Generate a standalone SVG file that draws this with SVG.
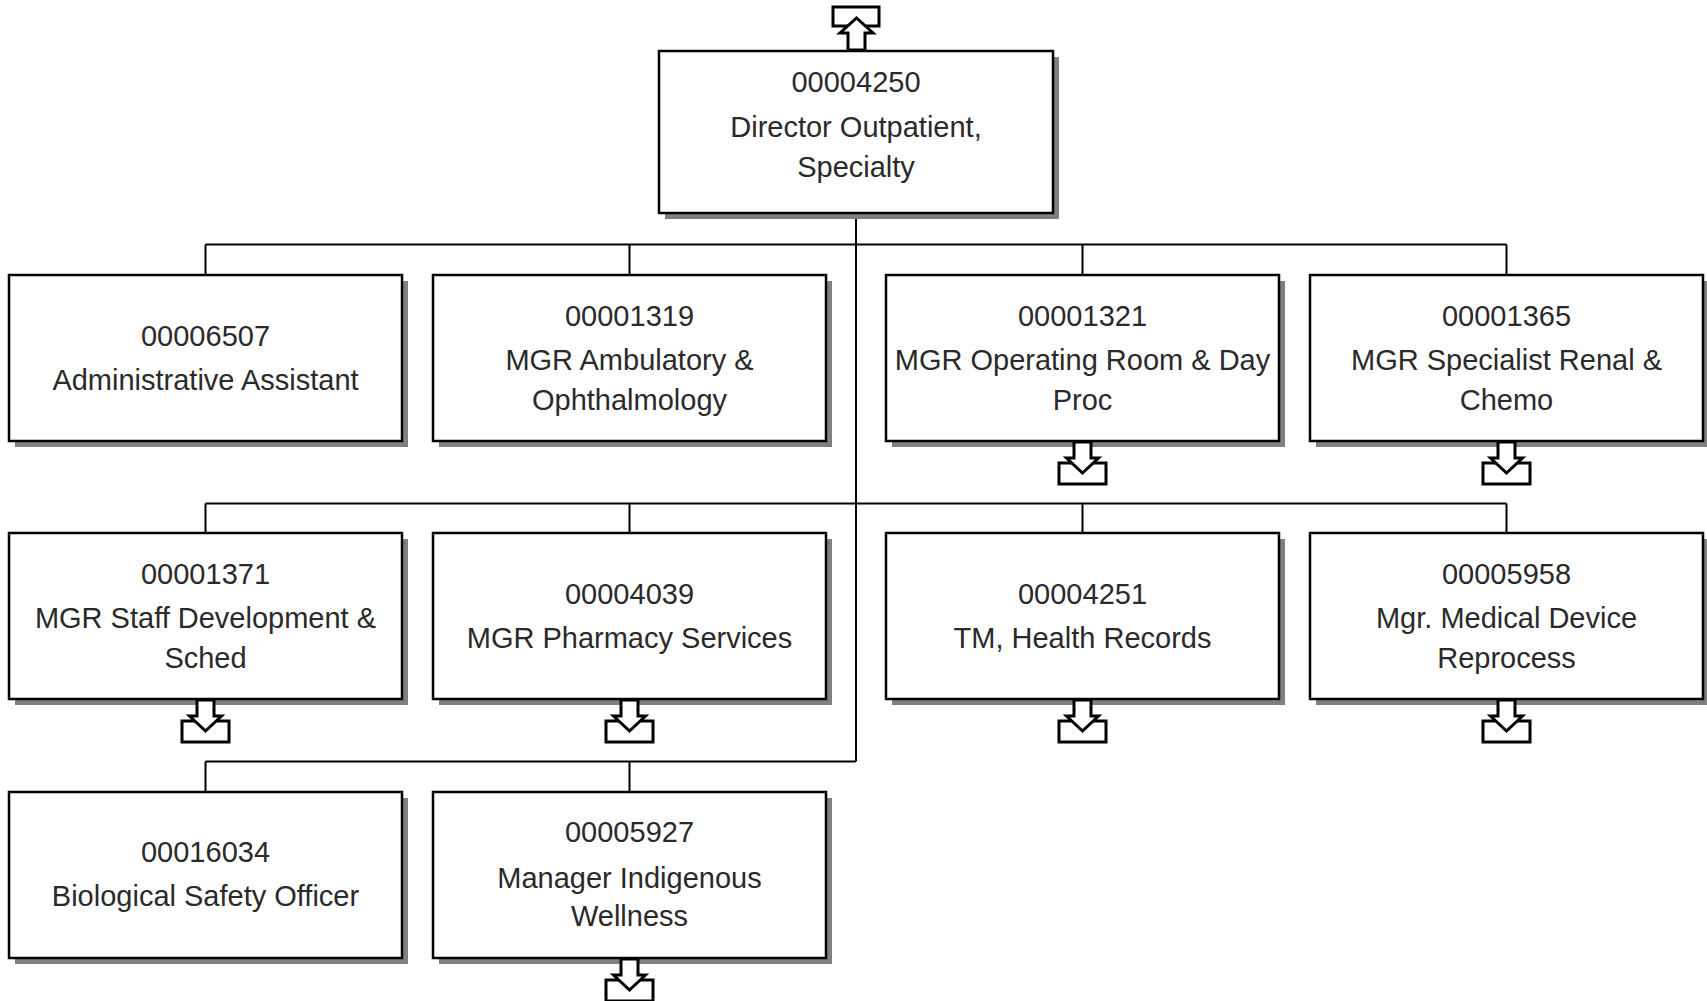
<svg xmlns="http://www.w3.org/2000/svg" xmlns:xlink="http://www.w3.org/1999/xlink" width="1707" height="1001" viewBox="0 0 1707 1001">
<style>
.sh{fill:#808080;stroke:none}
.bx{fill:#fff;stroke:#000;stroke-width:2.5}
.t{font-family:"Liberation Sans",Arial,sans-serif;font-size:29px;fill:#2a2a2a;text-anchor:middle}
.ln{fill:none;stroke:#000;stroke-width:2}
.ar{fill:#fff;stroke:#000;stroke-width:3;stroke-linejoin:miter}
</style>
<defs>
<g id="dn">
<rect class="ar" x="-23.5" y="22" width="47" height="21"/>
<polygon class="ar" points="-8.5,1 8.5,1 8.5,17 16,17 0,32 -16,17 -8.5,17"/>
</g>
<g id="up">
<rect class="ar" x="-23.5" y="-44" width="46" height="19"/>
<polygon class="ar" points="-8.5,-1 -8.5,-18 -16.5,-18 0,-33 16.5,-18 8.5,-18 8.5,-1"/>
</g>
</defs>
<rect width="1707" height="1001" fill="#fff"/>
<g id="connectors">
<path class="ln" d="M856 213V761.5"/>
<path class="ln" d="M205.5 244.5H1506.5M205.5 244.5V275M629.5 244.5V275M1082.5 244.5V275M1506.5 244.5V275"/>
<path class="ln" d="M205.5 503.5H1506.5M205.5 503.5V533M629.5 503.5V533M1082.5 503.5V533M1506.5 503.5V533"/>
<path class="ln" d="M205.5 761.5H856M205.5 761.5V792M629.5 761.5V792"/>
</g>
<g id="n00004250">
<rect class="sh" x="665" y="57" width="394" height="162"/>
<rect class="bx" x="659" y="51" width="394" height="162"/>
<text class="t" x="856" y="92">00004250</text>
<text class="t" x="856" y="137">Director Outpatient,</text>
<text class="t" x="856" y="177">Specialty</text>
<use xlink:href="#up" x="856.5" y="51"/>
</g>
<g id="n00006507">
<rect class="sh" x="15" y="281" width="393" height="166"/>
<rect class="bx" x="9" y="275" width="393" height="166"/>
<text class="t" x="205.5" y="346">00006507</text>
<text class="t" x="205.5" y="390">Administrative Assistant</text>
</g>
<g id="n00001319">
<rect class="sh" x="439" y="281" width="393" height="166"/>
<rect class="bx" x="433" y="275" width="393" height="166"/>
<text class="t" x="629.5" y="326">00001319</text>
<text class="t" x="629.5" y="370">MGR Ambulatory &amp;</text>
<text class="t" x="629.5" y="410">Ophthalmology</text>
</g>
<g id="n00001321">
<rect class="sh" x="892" y="281" width="393" height="166"/>
<rect class="bx" x="886" y="275" width="393" height="166"/>
<text class="t" x="1082.5" y="326">00001321</text>
<text class="t" x="1082.5" y="370">MGR Operating Room &amp; Day</text>
<text class="t" x="1082.5" y="410">Proc</text>
<use xlink:href="#dn" x="1082.5" y="441"/>
</g>
<g id="n00001365">
<rect class="sh" x="1316" y="281" width="393" height="166"/>
<rect class="bx" x="1310" y="275" width="393" height="166"/>
<text class="t" x="1506.5" y="326">00001365</text>
<text class="t" x="1506.5" y="370">MGR Specialist Renal &amp;</text>
<text class="t" x="1506.5" y="410">Chemo</text>
<use xlink:href="#dn" x="1506.5" y="441"/>
</g>
<g id="n00001371">
<rect class="sh" x="15" y="539" width="393" height="166"/>
<rect class="bx" x="9" y="533" width="393" height="166"/>
<text class="t" x="205.5" y="584">00001371</text>
<text class="t" x="205.5" y="628">MGR Staff Development &amp;</text>
<text class="t" x="205.5" y="668">Sched</text>
<use xlink:href="#dn" x="205.5" y="699"/>
</g>
<g id="n00004039">
<rect class="sh" x="439" y="539" width="393" height="166"/>
<rect class="bx" x="433" y="533" width="393" height="166"/>
<text class="t" x="629.5" y="604">00004039</text>
<text class="t" x="629.5" y="648">MGR Pharmacy Services</text>
<use xlink:href="#dn" x="629.5" y="699"/>
</g>
<g id="n00004251">
<rect class="sh" x="892" y="539" width="393" height="166"/>
<rect class="bx" x="886" y="533" width="393" height="166"/>
<text class="t" x="1082.5" y="604">00004251</text>
<text class="t" x="1082.5" y="648">TM, Health Records</text>
<use xlink:href="#dn" x="1082.5" y="699"/>
</g>
<g id="n00005958">
<rect class="sh" x="1316" y="539" width="393" height="166"/>
<rect class="bx" x="1310" y="533" width="393" height="166"/>
<text class="t" x="1506.5" y="584">00005958</text>
<text class="t" x="1506.5" y="628">Mgr. Medical Device</text>
<text class="t" x="1506.5" y="668">Reprocess</text>
<use xlink:href="#dn" x="1506.5" y="699"/>
</g>
<g id="n00016034">
<rect class="sh" x="15" y="798" width="393" height="166"/>
<rect class="bx" x="9" y="792" width="393" height="166"/>
<text class="t" x="205.5" y="862">00016034</text>
<text class="t" x="205.5" y="906">Biological Safety Officer</text>
</g>
<g id="n00005927">
<rect class="sh" x="439" y="798" width="393" height="166"/>
<rect class="bx" x="433" y="792" width="393" height="166"/>
<text class="t" x="629.5" y="842">00005927</text>
<text class="t" x="629.5" y="888">Manager Indigenous</text>
<text class="t" x="629.5" y="926">Wellness</text>
<use xlink:href="#dn" x="629.5" y="958"/>
</g>
</svg>
